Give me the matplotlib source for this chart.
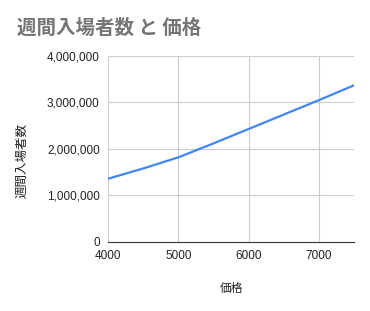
import matplotlib
matplotlib.use('Agg')
import matplotlib.pyplot as plt
from matplotlib.ticker import FuncFormatter

plt.rcParams['font.family'] = ['Noto Sans CJK JP', 'DejaVu Sans']

# price vs weekly visitors
price = [4000, 4500, 5000, 5500, 6000, 6500, 7000, 7500]
visitors = [1360000, 1580000, 1820000, 2120000, 2430000, 2740000, 3050000, 3370000]
x_ticks = [4000, 5000, 6000, 7000]
y_ticks = [0, 1000000, 2000000, 3000000, 4000000]

fig = plt.figure(figsize=(3.7, 3.11), dpi=100)
ax = fig.add_axes([0.292, 0.222, 0.665, 0.598])
ax.plot(price, visitors, color='#4285F4', lw=1.6)

ax.set_xlim(4000, 7500)
ax.set_ylim(0, 4000000)
ax.set_xticks(x_ticks)
ax.set_yticks(y_ticks)
ax.yaxis.set_major_formatter(FuncFormatter(lambda v, p: f'{int(v):,}'))
ax.grid(True, color='#cccccc', lw=0.8)
ax.set_axisbelow(True)
for s in ['top', 'right', 'left']:
    ax.spines[s].set_visible(False)
ax.spines['bottom'].set_color('#333333')
ax.tick_params(length=0, labelsize=8.5, colors='#222222')
ax.tick_params(axis='x', pad=6)
ax.tick_params(axis='y', pad=6)
for lbl in ax.get_xticklabels() + ax.get_yticklabels():
    lbl.set_family(['Liberation Sans', 'DejaVu Sans'])

ax.set_xlabel('価格', fontsize=8.5, labelpad=14, color='#222222')
ax.set_ylabel('週間入場者数', fontsize=9, color='#222222')
ax.yaxis.set_label_coords(-0.325, 0.44)
fig.text(0.046, 0.91, '週間入場者数 と 価格', fontsize=14, fontweight='bold',
         color='#757575', va='center')

plt.savefig('out.png')
